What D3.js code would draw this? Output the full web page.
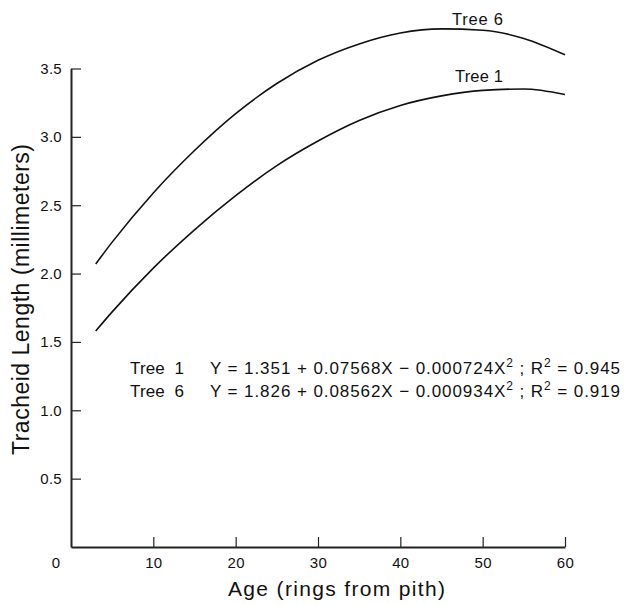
<!DOCTYPE html>
<html><head><meta charset="utf-8">
<script src="https://cdn.jsdelivr.net/npm/d3@7"></script>
<style>body{margin:0;background:#fff}svg{display:block}text{font-family:"Liberation Sans",Arial,sans-serif;fill:#111}</style>
</head><body><svg id="c" width="624" height="605"></svg>
<script>
const ages  = [3, 5, 10, 15, 20, 25, 30, 35, 40, 45, 50, 55, 60];
const tree6 = [2.07, 2.23, 2.59, 2.90, 3.17, 3.39, 3.56, 3.68, 3.76, 3.79, 3.78, 3.72, 3.60];
const tree1 = [1.58, 1.72, 2.04, 2.32, 2.57, 2.79, 2.97, 3.12, 3.23, 3.30, 3.34, 3.35, 3.31];
const xTicks = [10, 20, 30, 40, 50, 60];
const yTicks = [0.5, 1.0, 1.5, 2.0, 2.5, 3.0, 3.5];
const seriesNames = ["Tree 1", "Tree 6"];
const equations = ["Y = 1.351 + 0.07568X \u2212 0.000724X", "Y = 1.826 + 0.08562X \u2212 0.000934X"];
const r2 = ["0.945", "0.919"];

const svg = d3.select("#c");
const x = d3.scaleLinear().domain([0, 60]).range([71, 565]);
const y = d3.scaleLinear().domain([0, 3.5]).range([547, 68.5]);
const FONT = '"Liberation Sans",Arial,sans-serif';

// stretch text to a target width with letter spacing
function fit(sel, width) {
  const node = sel.node();
  const w = node.getComputedTextLength();
  const n = node.textContent.length;
  if (n > 1) sel.attr("letter-spacing", ((width - w) / (n - 1)).toFixed(3));
  return sel;
}

// axes
const xAxis = d3.axisBottom(x).tickValues(xTicks).tickSizeInner(-10).tickSizeOuter(0).tickFormat(d3.format("d"));
const gx = svg.append("g").attr("transform", `translate(0,${y(0)})`).call(xAxis);
gx.select(".domain").attr("stroke", "#222").attr("stroke-width", 2);
gx.selectAll(".tick line").attr("stroke", "#222").attr("stroke-width", 1.2);
gx.selectAll(".tick text").attr("font-size", 15).attr("dy", 0).attr("y", 21)
  .style("font-family", FONT).attr("fill", "#111").attr("letter-spacing", 0.3);

const yAxis = d3.axisLeft(y).tickValues(yTicks).tickSizeInner(-10).tickSizeOuter(0).tickFormat(d3.format(".1f"));
const gy = svg.append("g").attr("transform", `translate(${x(0)},0)`).call(yAxis);
gy.select(".domain").attr("stroke", "#222").attr("stroke-width", 2);
gy.selectAll(".tick text").attr("font-size", 15).attr("x", -9)
  .style("font-family", FONT).attr("fill", "#111").attr("letter-spacing", 0.3);
gy.selectAll(".tick line").attr("stroke", "#222").attr("stroke-width", 1.2);

svg.append("text").attr("x", x(0) - 15).attr("y", y(0) + 21).attr("text-anchor", "middle").attr("font-size", 15).text("0");

// curves
const line = d3.line().x((d, i) => x(ages[i])).y(d => y(d)).curve(d3.curveMonotoneX);
[tree1, tree6].forEach(s => {
  svg.append("path").attr("d", line(s)).attr("fill", "none").attr("stroke", "#111").attr("stroke-width", 1.6);
});

// curve labels
fit(svg.append("text").attr("x", 452).attr("y", 25).attr("font-size", 16.5).text(seriesNames[1]), 51);
fit(svg.append("text").attr("x", 455).attr("y", 82).attr("font-size", 16.5).text(seriesNames[0]), 48);

// equations
[0, 1].forEach((k, i) => {
  const yy = 374 + i * 23;
  fit(svg.append("text").attr("x", 130).attr("y", yy).attr("font-size", 17)
    .attr("xml:space", "preserve").text(seriesNames[k].replace(" ", "  ")), 54);
  const t = svg.append("text").attr("x", 210).attr("y", yy).attr("font-size", 17);
  t.append("tspan").text(equations[k]);
  t.append("tspan").attr("dy", -7).attr("font-size", 12).text("2");
  t.append("tspan").attr("dy", 7).text(" ; R");
  t.append("tspan").attr("dy", -7).attr("font-size", 12).text("2");
  t.append("tspan").attr("dy", 7).text(" = " + r2[k]);
  fit(t, 410);
});

// axis titles
fit(svg.append("text").attr("x", 228).attr("y", 596).attr("font-size", 21).text("Age (rings from pith)"), 217);
const yt = svg.append("text").attr("transform", "translate(29,455) rotate(-90)").attr("font-size", 23).text("Tracheid Length (millimeters)");
fit(yt, 311);
</script></body></html>
